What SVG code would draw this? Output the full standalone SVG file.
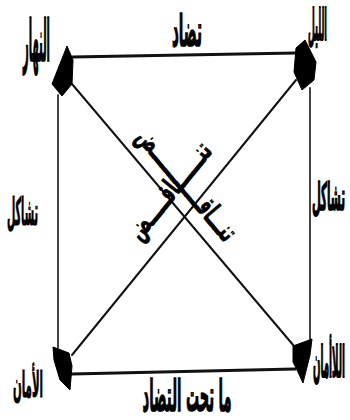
<svg xmlns="http://www.w3.org/2000/svg" width="350" height="420" viewBox="0 0 350 420">
<style>
  .bg{fill:#fff}
  .t{font-family:"DejaVu Sans","Noto Sans",sans-serif;font-weight:bold;fill:#000;stroke:#000;stroke-width:0.6;text-anchor:middle;font-size:20px}
  .s{text-anchor:start}
  .e{text-anchor:end}
  .sm{font-size:12px;stroke-width:0.5}
  .d{font-size:16px;stroke-width:0.4}
  .ln{stroke:#111;stroke-width:2;fill:none;stroke-linecap:round}
  .thick{stroke-width:3}
  .side{stroke:#444;stroke-width:2}
  .head{fill:#000;stroke:#000;stroke-width:1;stroke-linejoin:round}
</style>
<rect class="bg" x="0" y="0" width="350" height="420"/>
<g id="connectors">
  <line class="ln thick" x1="72" y1="57" x2="296" y2="53"/>
  <line class="ln thick" x1="72" y1="374" x2="295" y2="369"/>
  <line class="ln side" x1="58" y1="95" x2="58" y2="348"/>
  <line class="ln side" x1="310" y1="88" x2="310" y2="340"/>
  <line class="ln" x1="72" y1="84" x2="294" y2="346"/>
  <line class="ln" x1="72" y1="355" x2="296" y2="80"/>
  <polygon class="head" points="67,46 73,60 72,84 62,96 52,84"/>
  <polygon class="head" points="305,40 316,62 314,80 302,90 294,72 296,48"/>
  <polygon class="head" points="53,347 69,353 72,366 70,390 60,380 54,360"/>
  <polygon class="head" points="293,346 312,339 310,355 303,383 297,370 293,362"/>
  <text class="t" textLength="30" lengthAdjust="spacingAndGlyphs" transform="translate(187,46) scale(1,2.2)">تضاد</text>
  <text class="t" textLength="89" lengthAdjust="spacingAndGlyphs" transform="translate(187,411) scale(1,2.2)">ما تحت التضاد</text>
  <text class="t s" textLength="31" lengthAdjust="spacingAndGlyphs" transform="translate(7,225) scale(1,1.9)">تشاكل</text>
  <text class="t e sm" textLength="33" lengthAdjust="spacingAndGlyphs" transform="translate(345,210) scale(1,3.17)">تشاكل</text>
  <text class="t d" transform="translate(180,190.5) rotate(49.7) scale(1,1.8)">تنـــاقـــــــــــــض</text>
  <text class="t d" transform="translate(176.5,196.7) rotate(-50.8) scale(1,1.8)">تنـــــــاقـــــض</text>
</g>
<g id="node-nahar">
  <text class="t s" textLength="27" lengthAdjust="spacingAndGlyphs" transform="translate(23,61) scale(1,2.9)">النهار</text>
</g>
<g id="node-layl">
  <text class="t e sm" textLength="19" lengthAdjust="spacingAndGlyphs" transform="translate(327,40) scale(1,3.67)">الليل</text>
</g>
<g id="node-aman">
  <text class="t s" textLength="30" lengthAdjust="spacingAndGlyphs" transform="translate(13,397) scale(1,1.8)">الأمان</text>
</g>
<g id="node-laaman">
  <text class="t e sm" textLength="32" lengthAdjust="spacingAndGlyphs" transform="translate(345,377) scale(1,3.58)">اللاأمان</text>
</g>
</svg>
